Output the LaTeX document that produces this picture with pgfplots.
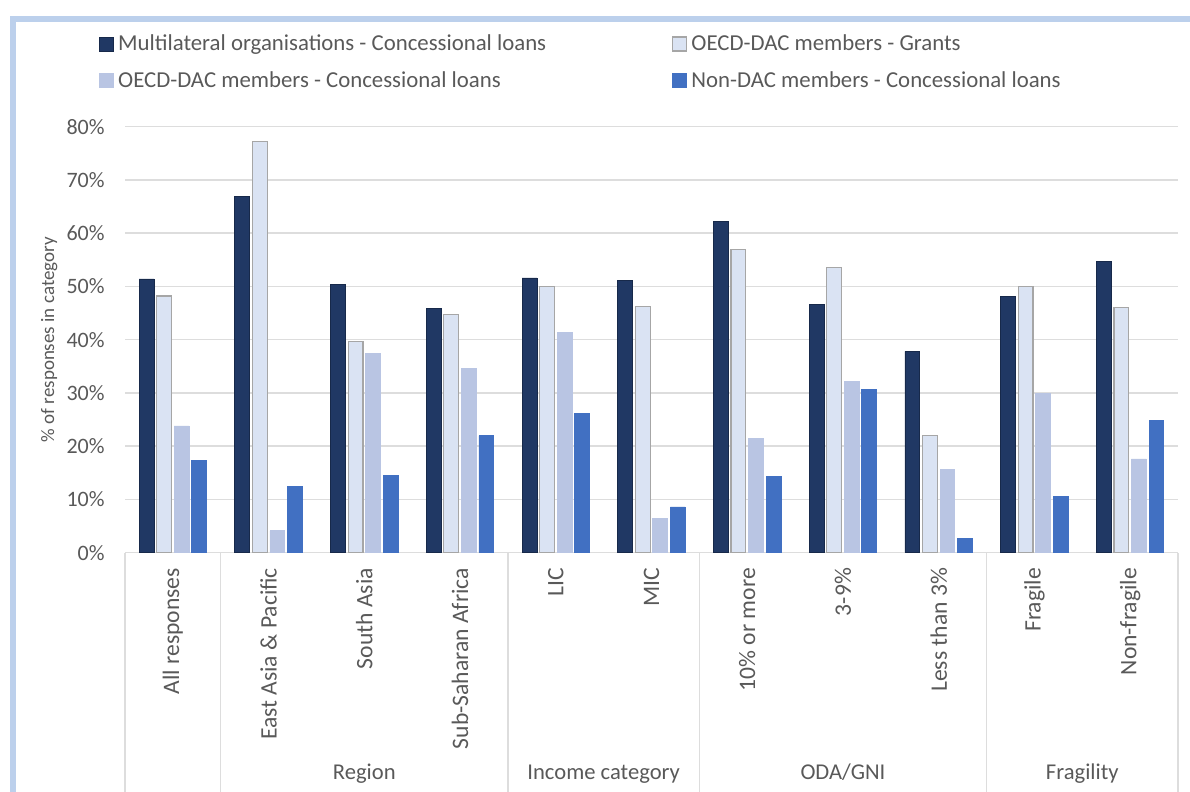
\documentclass[border=0pt]{standalone}
\usepackage{pgfplots}
\pgfplotsset{compat=1.18}
\usepackage{pgfplotstable}
\usepackage{fontspec}
\setmainfont{Carlito}
\definecolor{cA}{HTML}{203864}
\definecolor{cAb}{HTML}{17294A}
\definecolor{cB}{HTML}{DAE3F3}
\definecolor{cBb}{HTML}{A6A6A6}
\definecolor{cC}{HTML}{B9C5E3}
\definecolor{cD}{HTML}{4170C2}
\definecolor{txt}{HTML}{595959}
\definecolor{gridc}{HTML}{DDDDDD}
\definecolor{framec}{HTML}{BCD0EC}
\pgfplotstableread{
x mlc grant conc ndc
0 51.4 48.2 23.8 17.4
1 66.9 77.2 4.1 12.5
2 50.3 39.6 37.4 14.5
3 45.8 44.8 34.6 22.0
4 51.6 50.0 41.3 26.1
5 51.2 46.2 6.5 8.6
6 62.2 57.0 21.4 14.3
7 46.6 53.6 32.1 30.6
8 37.8 22.0 15.7 2.6
9 48.2 50.0 29.9 10.6
10 54.7 46.0 17.6 24.8
}\datatable
\begin{document}
\begin{tikzpicture}
\useasboundingbox (0,0) rectangle (595bp,396bp);
\draw[framec, line width=3bp] (6.5bp,-5bp) -- (6.5bp,386.5bp) -- (605bp,386.5bp);
\begin{axis}[
  at={(62.5bp,119.65bp)}, anchor=south west,
  scale only axis, width=526.5bp, height=213bp,
  xmin=-0.5, xmax=10.5, ymin=0, ymax=80,
  ytick={0,10,...,80},
  yticklabel={\pgfmathprintnumber{\tick}\%},
  /pgf/number format/assume math mode=true,
  xtick={0,...,10},
  xticklabels={All responses, East Asia \& Pacific, South Asia, Sub-Saharan Africa, LIC, MIC, 10\% or more, 3-9\%, Less than 3\%, Fragile, Non-fragile},
  xticklabel style={rotate=90, anchor=east, inner xsep=7.5bp, inner ysep=0pt, font=\fontsize{11.8bp}{14bp}\selectfont, text=txt},
  yticklabel style={anchor=east, inner sep=0pt, xshift=-10bp, font=\fontsize{11bp}{13bp}\selectfont, text=txt},
  axis line style={draw=none},
  tick style={draw=none},
  ymajorgrids=true, xmajorgrids=false,
  major grid style={draw=gridc, line width=0.75bp},
  ylabel={\% of responses in category},
  ylabel style={at={(axis description cs:-0.072,0.5)}, anchor=center, rotate=0, font=\fontsize{9.5bp}{11bp}\selectfont, text=txt},
  clip=false,
  bar width=0.155,
  legend columns=2,
  legend cell align=left,
  legend style={at={(axis description cs:-0.0247,1.222)}, anchor=north west, draw=none, fill=none,
    font=\fontsize{11.4bp}{13bp}\selectfont, text=txt, inner sep=0pt,
    nodes={inner sep=1bp},
    row sep=7bp,
    /tikz/every even column/.append style={column sep=62bp}},
  legend image code/.code={\draw[#1] (0bp,-3.5bp) rectangle (7bp,3.5bp); \path (8bp,0bp);},
]
\addplot[ybar, bar shift=-0.2745, fill=cA, draw=cAb, line width=0.4bp] table[x=x,y=mlc]{\datatable};
\addlegendentry{Multilateral organisations - Concessional loans}
\addplot[ybar, bar shift=-0.0915, fill=cB, draw=cBb, line width=0.6bp] table[x=x,y=grant]{\datatable};
\addlegendentry{OECD-DAC members - Grants}
\addplot[ybar, bar shift=0.0915, fill=cC, draw=cC, line width=0.4bp] table[x=x,y=conc]{\datatable};
\addlegendentry{OECD-DAC members - Concessional loans}
\addplot[ybar, bar shift=0.2745, fill=cD, draw=cD, line width=0.4bp] table[x=x,y=ndc]{\datatable};
\addlegendentry{Non-DAC members - Concessional loans}
\foreach \s in {-0.5,0.5,3.5,5.5,8.5,10.5}{
  \edef\tmp{\noexpand\draw[gridc, line width=0.75bp] (axis cs:\s,0) -- ([yshift=-125bp]axis cs:\s,0);}\tmp
}
\node[anchor=base, font=\fontsize{11.3bp}{13bp}\selectfont, text=txt] at ([yshift=-113.6bp]axis cs:2,0) {Region};
\node[anchor=base, font=\fontsize{11.3bp}{13bp}\selectfont, text=txt] at ([yshift=-113.6bp]axis cs:4.5,0) {Income category};
\node[anchor=base, font=\fontsize{11.3bp}{13bp}\selectfont, text=txt] at ([yshift=-113.6bp]axis cs:7,0) {ODA/GNI};
\node[anchor=base, font=\fontsize{11.3bp}{13bp}\selectfont, text=txt] at ([yshift=-113.6bp]axis cs:9.5,0) {Fragility};
\end{axis}
\end{tikzpicture}
\end{document}
